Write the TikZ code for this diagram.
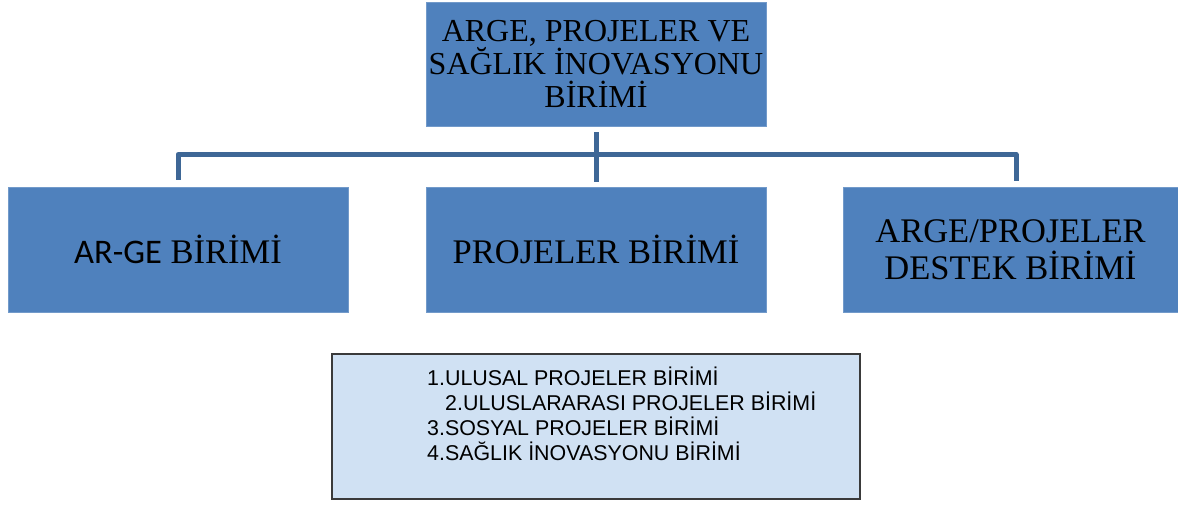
\documentclass[tikz,border=0pt]{standalone}
\usepackage{fontspec}
\setmainfont{Liberation Serif}
\newfontfamily\carlito{Carlito}
\newfontfamily\arialf{Liberation Sans}
\definecolor{boxblue}{HTML}{4F81BD}
\definecolor{connblue}{HTML}{3E6796}
\definecolor{paleblue}{HTML}{D0E1F3}
\definecolor{edgegray}{HTML}{3A3A3A}
\begin{document}
\begin{tikzpicture}[x=1pt,y=-1pt,
  unitbox/.style={draw=boxblue!80!white, line width=0.8pt, fill=boxblue, rectangle, inner sep=0pt,
    minimum height=125pt, align=center, font=\fontsize{34.5}{36.5}\selectfont},
  conn/.style={draw=connblue, line width=5pt, line join=round},
  listbox/.style={draw=edgegray, line width=1.6pt, fill=paleblue, rectangle, inner sep=0pt,
    minimum width=528pt, minimum height=145pt},
  item/.style={anchor=base west, inner sep=0pt, font=\arialf\fontsize{21.4}{25}\selectfont}]
\useasboundingbox (0,0) rectangle (1178,504);
\node[unitbox, minimum width=340pt, minimum height=124pt, text depth=-2pt, font=\fontsize{32}{32.8}\selectfont] (top) at (596,64) {ARGE, PROJELER VE\\SAĞLIK İNOVASYONU\\BİRİMİ};
\node[unitbox, minimum width=340pt] (left) at (178,249.5) {{\carlito AR-GE} BİRİMİ};
\node[unitbox, minimum width=340pt] (mid) at (596,249.5) {PROJELER BİRİMİ};
\node[unitbox, minimum width=335pt, text depth=-2pt] (right) at (1010.5,249.5) {ARGE/PROJELER\\DESTEK BİRİMİ};
\node[listbox] (list) at (596,426.5) {};
\node[item] (item1) at (427,385) {1.ULUSAL PROJELER BİRİMİ};
\node[item] (item2) at (445,410) {2.ULUSLARARASI PROJELER BİRİMİ};
\node[item] (item3) at (427,435) {3.SOSYAL PROJELER BİRİMİ};
\node[item] (item4) at (427,460) {4.SAĞLIK İNOVASYONU BİRİMİ};
\draw[conn, shorten <=6pt, shorten >=5pt] (top.south) -- (mid.north);
\draw[conn] ([yshift=7pt]left.north) -- ++(0,-25) -| ([xshift=5.5pt,yshift=6pt]right.north);
\end{tikzpicture}
\end{document}
